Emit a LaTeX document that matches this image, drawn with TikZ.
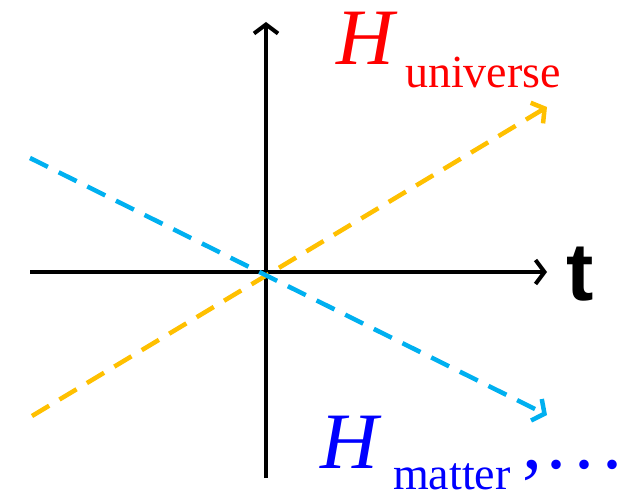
\documentclass[tikz,border=0pt]{standalone}
\usepackage{fontspec}
\setmainfont{Liberation Serif}
\newfontfamily\axisfont{Liberation Sans}
\usetikzlibrary{arrows.meta,positioning,calc}
\definecolor{hgold}{RGB}{255,192,0}
\definecolor{hcyan}{RGB}{0,176,240}
\tikzset{
  axisline/.style={draw=black, line width=4pt, -{Straight Barb[length=9pt,width=24pt]}},
  trendline/.style={line width=4.5pt, dash pattern=on 20pt off 12pt,
                    -{Straight Barb[length=9pt,width=24pt]}},
  biglab/.style={inner sep=0pt, outer sep=0pt, anchor=base west,
                 font=\fontsize{80}{80}\selectfont},
  sublab/.style={inner sep=0pt, outer sep=0pt, anchor=base west, text depth=0pt,
                 font=\fontsize{46}{46}\selectfont},
}
\begin{document}
\begin{tikzpicture}[x=1pt,y=-1pt]
\useasboundingbox (0,0) rectangle (624,497);
\coordinate (o) at (266,272);
\coordinate (tl) at (30,272);
\coordinate (tr) at (547,272);
\coordinate (vb) at (266,478);
\coordinate (vt) at (266,22);
\coordinate (ys) at (32,416);
\coordinate (ye) at (547,107);
\coordinate (cs) at (30,158);
\coordinate (ce) at (547,415);
% axes
\draw[axisline] (tl) -- (tr);
\draw[axisline] (vb) -- (vt);
\node[inner sep=0pt, anchor=base, font=\axisfont\bfseries\fontsize{82}{82}\selectfont] (tlab) at (580,300) {t};
% dashed lines
\draw[trendline, draw=hgold] (ys) -- (ye);
\draw[trendline, draw=hcyan] (cs) -- (ce);
% labels
\node[biglab, text=red] (hu) at (336,65) {\textit{H}};
\node[sublab, text=red] (hus) at (405,88) {universe};
\node[biglab, text=blue] (hm) at (320,468) {\textit{H}};
\node[sublab, text=blue] (hms) at (393,489) {matter};
\node[biglab, text=blue, text depth=0pt] (dots) at (522,468) {,\kern5pt.\kern8pt.\kern8pt.};
\end{tikzpicture}
\end{document}
